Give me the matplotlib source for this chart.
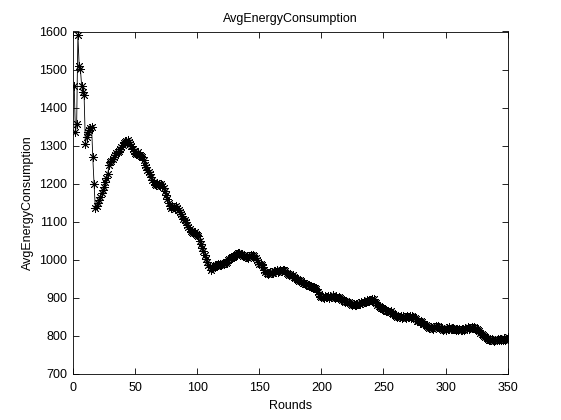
import matplotlib
matplotlib.use("Agg")
import matplotlib.pyplot as plt
import numpy as np

plt.rcParams['font.family'] = ['Liberation Sans', 'DejaVu Sans']

# avg energy consumption per round (rounds 1..350)
energy = [
    1458, 1335, 1357, 1592, 1510, 1502, 1458, 1440, 1432, 1305,
    1322, 1335, 1340, 1345, 1350, 1269, 1199, 1137, 1142, 1150,
    1158, 1166, 1175, 1182, 1190, 1205, 1214, 1225, 1248, 1256,
    1260, 1266, 1270, 1275, 1280, 1282, 1287, 1291, 1296, 1302,
    1306, 1310, 1313, 1316, 1310, 1304, 1298, 1292, 1286, 1280,
    1278, 1282, 1276, 1274, 1272, 1270, 1262, 1250, 1243, 1236,
    1230, 1226, 1218, 1210, 1205, 1200, 1197, 1202, 1198, 1195,
    1200, 1194, 1188, 1180, 1170, 1160, 1150, 1142, 1136, 1140,
    1138, 1134, 1140, 1137, 1130, 1125, 1120, 1115, 1108, 1104,
    1098, 1092, 1085, 1080, 1075, 1072, 1070, 1074, 1068, 1066,
    1062, 1050, 1040, 1032, 1022, 1012, 1002, 995, 986, 980,
    973, 978, 982, 984, 986, 983, 988, 990, 986, 989,
    992, 988, 991, 995, 998, 1002, 1005, 1008, 1008, 1010,
    1013, 1015, 1017, 1018, 1016, 1013, 1010, 1012, 1008, 1008,
    1005, 1009, 1012, 1010, 1013, 1011, 1004, 998, 994, 990,
    988, 986, 980, 974, 968, 965, 963, 965, 967, 964,
    966, 969, 969, 972, 967, 970, 974, 970, 972, 973,
    969, 966, 963, 960, 962, 958, 960, 955, 952, 948,
    946, 944, 946, 943, 940, 938, 936, 937, 934, 932,
    930, 932, 928, 925, 925, 922, 915, 910, 905, 903,
    903, 900, 905, 902, 904, 900, 905, 902, 906, 901,
    899, 903, 900, 903, 898, 896, 894, 892, 890, 892,
    888, 890, 886, 884, 882, 884, 880, 882, 883, 886,
    884, 888, 886, 890, 888, 890, 893, 891, 895, 893,
    897, 896, 890, 886, 882, 878, 876, 873, 872, 870,
    868, 866, 864, 866, 862, 864, 860, 857, 854, 852,
    850, 852, 849, 851, 848, 852, 850, 847, 851, 849,
    852, 848, 851, 850, 846, 844, 840, 838, 836, 838,
    835, 832, 830, 827, 825, 823, 820, 822, 821, 818,
    822, 826, 824, 825, 822, 820, 818, 815, 818, 816,
    820, 818, 822, 819, 817, 821, 818, 816, 818, 815,
    817, 814, 816, 818, 815, 820, 818, 822, 819, 821,
    823, 820, 824, 821, 817, 814, 812, 808, 805, 802,
    799, 797, 795, 792, 790, 788, 791, 789, 787, 790,
    788, 791, 789, 792, 790, 788, 794, 790, 792, 796,
]
rounds = np.arange(1, len(energy) + 1)

x_ticks = [0, 50, 100, 150, 200, 250, 300, 350]
y_ticks = [700, 800, 900, 1000, 1100, 1200, 1300, 1400, 1500, 1600]

fig = plt.figure(figsize=(5.61, 4.2), dpi=100)
ax = fig.add_axes([0.13, 0.11, 0.775, 0.815])

ax.plot(rounds, energy, color='k', lw=0.6, marker=(8, 2, 0), ms=6.5,
        mec='k', mew=0.6)

ax.set_xlim(0, 350)
ax.set_ylim(700, 1600)
ax.set_xticks(x_ticks)
ax.set_yticks(y_ticks)
ax.tick_params(direction='in', top=True, right=True, length=4, width=0.6,
               labelsize=9)
ax.tick_params(axis='x', pad=6)
ax.tick_params(axis='y', pad=4)
for s in ax.spines.values():
    s.set_linewidth(0.6)

ax.set_title('AvgEnergyConsumption', fontsize=9, pad=7)
ax.set_xlabel('Rounds', fontsize=9, labelpad=4)
ax.set_ylabel('AvgEnergyConsumption', fontsize=9, labelpad=4)

fig.savefig('out.png', dpi=100)
